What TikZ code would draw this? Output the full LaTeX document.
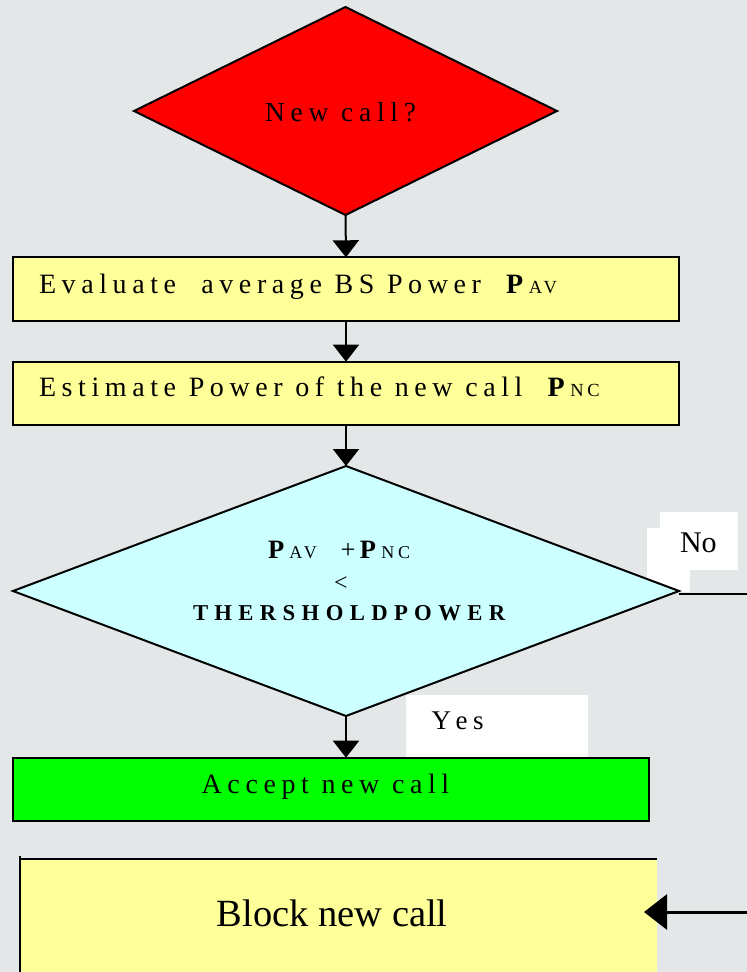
\documentclass[tikz,border=0pt]{standalone}
\usepackage{fontspec}
\setmainfont{Liberation Serif}
\newfontfamily\spaced[LetterSpace=20]{Liberation Serif}
\newfontfamily\spacedtitle[LetterSpace=21]{Liberation Serif}
\newfontfamily\widespaced[LetterSpace=28]{Liberation Serif}
\usetikzlibrary{arrows.meta,shapes.geometric}

\definecolor{bg}{RGB}{228,231,231}
\definecolor{paleyellow}{RGB}{255,255,153}
\definecolor{palecyan}{RGB}{204,255,255}
\definecolor{brightgreen}{RGB}{0,255,0}
\definecolor{brightred}{RGB}{255,0,0}

\newcommand\fsz[1]{\fontsize{#1}{#1}\selectfont}

\tikzset{
  every node/.style={inner sep=0pt, outer sep=0pt},
  decision/.style={diamond, draw=black, line width=2pt, aspect=1},
  stepbox/.style={rectangle, draw=black, line width=2pt},
  labelbox/.style={rectangle, fill=white},
  txt/.style={anchor=base west, text=black},
  flow/.style={line width=2pt, -{Triangle[width=26pt,length=17pt]}},
  bigflow/.style={line width=3pt, -{Triangle[width=35pt,length=23pt]}},
  plainline/.style={line width=2pt}
}

\begin{document}
\begin{tikzpicture}[x=1pt,y=-1pt]
  % page and background
  \useasboundingbox (0,0) rectangle (747,972);
  \fill[bg] (0,0) rectangle (747,972);

  % white label patches behind the decision
  \node[labelbox, minimum width=78pt, minimum height=58pt] (nopatchA) at (699,541) {};
  \node[labelbox, minimum width=43pt, minimum height=64pt] (nopatchB) at (668.5,560) {};
  \node[labelbox, minimum width=182pt, minimum height=62pt] (yespatch) at (497,726) {};

  % shapes
  \node[decision, fill=brightred, minimum width=423pt, minimum height=208pt] (newcall) at (345.5,111) {};
  \node[stepbox, fill=paleyellow, minimum width=666.6pt, minimum height=63.4pt] (evaluate) at (346,289) {};
  \node[stepbox, fill=paleyellow, minimum width=666.6pt, minimum height=63.4pt] (estimate) at (346,393.35) {};
  \node[decision, fill=palecyan, minimum width=666pt, minimum height=250pt] (check) at (346,591) {};
  \node[stepbox, fill=brightgreen, minimum width=636.6pt, minimum height=63.3pt] (accept) at (331,789.35) {};
  \node[rectangle, fill=paleyellow, minimum width=637pt, minimum height=126pt] (block) at (338.5,922) {};
  \draw[line width=2.5pt] (block.south west) -- ([yshift=3pt]block.north west);
  \draw[line width=2.5pt] (block.north west) -- (block.north east);

  % texts
  \node[txt] (newcalltxt) at (265,121.7) {\spacedtitle\fsz{27.5}New call?};
  \node[txt] (evaltxt) at (39,293.3) {\spaced\fsz{28}Evaluate\ \ average BS Power\ \ \textbf{P}{\fsz{18.5}AV}};
  \node[txt] (esttxt) at (39,396.7) {\spaced\fsz{28}Estimate Power of the new call\ \ \textbf{P}{\fsz{18.5}NC}};
  \node[txt] (sumtxt) at (268,558.3) {\spaced\fsz{26.5}\textbf{P}{\fsz{18}AV}\ \ +\,\textbf{P}{\fsz{18}NC}};
  \node[anchor=base, text=black] (lesstxt) at (341,590) {\fsz{24}<};
  \node[txt] (threshtxt) at (193,620) {\widespaced\fsz{22.7}\bfseries THERSHOLDPOWER};
  \node[txt] (notxt) at (680,552.7) {\fsz{30}No};
  \node[txt] (yestxt) at (431.7,729.3) {\spaced\fsz{27}Y\,es};
  \node[txt] (accepttxt) at (201.7,793.3) {\spaced\fsz{28}Accept new call};
  \node[txt] (blocktxt) at (216.7,926) {\fsz{38.5}Block new call};

  % connectors
  \coordinate (turn) at (770,912);
  \draw[flow] (newcall.south) -- (evaluate.north);
  \draw[flow] (evaluate.south) -- (estimate.north);
  \draw[flow] (estimate.south) -- (check.north);
  \draw[flow] (check.south) -- (check.south |- accept.north);
  \draw[plainline] ([yshift=-3pt]check.east) -| (turn);
  \draw[bigflow, shorten >=-13pt] (turn) -- (turn -| block.east);
\end{tikzpicture}
\end{document}
